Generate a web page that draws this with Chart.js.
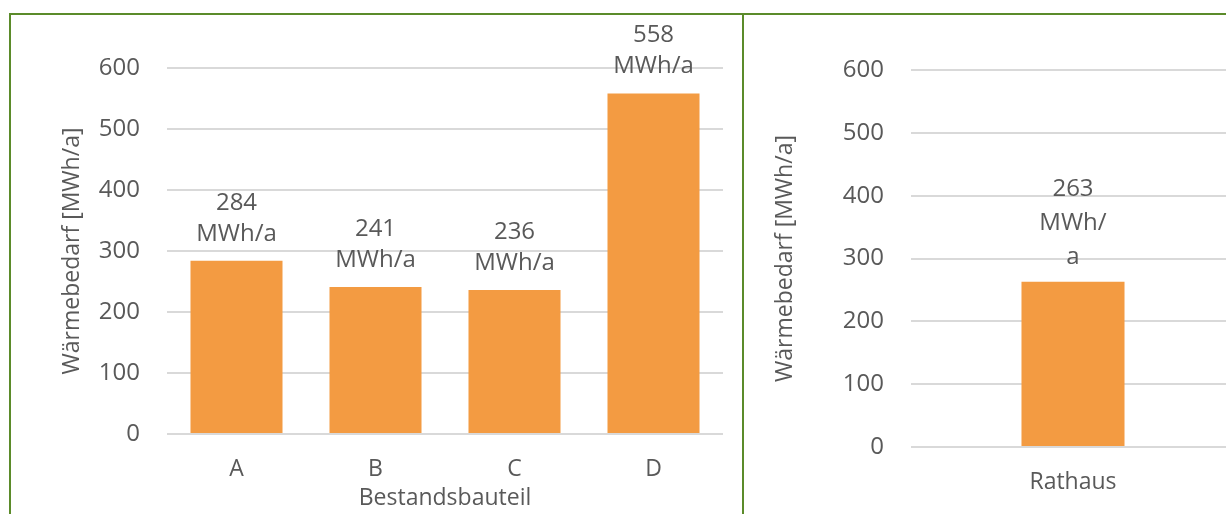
<!DOCTYPE html>
<html>
<head>
<meta charset="utf-8">
<script src="https://cdn.jsdelivr.net/npm/chart.js@4.4.1/dist/chart.umd.min.js"></script>
<style>
  html, body { margin: 0; padding: 0; background: #fff; }
  body { width: 1226px; height: 514px; overflow: hidden; position: relative; }
  .frame-left { position: absolute; left: 9px; top: 13px; width: 735px; height: 600px;
    box-sizing: border-box; border: 2px solid #5b8b2a; }
  .frame-right { position: absolute; left: 742px; top: 13px; width: 600px; height: 600px;
    box-sizing: border-box; border-top: 2px solid #5b8b2a; }
  .box { position: absolute; }
  #boxLeft { left: 11px; top: 15px; width: 730px; height: 499px; }
  #boxRight { left: 744px; top: 15px; width: 500px; height: 499px; }
</style>
</head>
<body>
<div class="frame-left"></div>
<div class="frame-right"></div>
<div class="box" id="boxLeft"><canvas id="leftChart"></canvas></div>
<div class="box" id="boxRight"><canvas id="rightChart"></canvas></div>
<script>
// Wärmebedarf der Bestandsbauteile
const bauteile = ['A', 'B', 'C', 'D'];
const bauteilWerte = [284, 241, 236, 558];
// Wärmebedarf Rathaus
const rathausKategorien = ['Rathaus'];
const rathausWerte = [263];
// Achsen
const yTicks = [0, 100, 200, 300, 400, 500, 600];
const einheit = 'MWh/a';
const einheitUmbruch = ['MWh/', 'a'];
const yTitel = 'Wärmebedarf [MWh/a]';
const xTitelLinks = 'Bestandsbauteil';

const FONT = "'Open Sans', 'DejaVu Sans', sans-serif";
const GREY = '#595959';
const ORANGE = '#f39b42';
const GRID = '#d9d9d9';

// Value labels above each bar, one text line per entry
const valueLabels = {
  id: 'valueLabels',
  afterDatasetsDraw(chart, args, opts) {
    const ctx = chart.ctx;
    const meta = chart.getDatasetMeta(0);
    ctx.save();
    ctx.font = `${opts.size}px ${FONT}`;
    ctx.fillStyle = GREY;
    ctx.textAlign = 'center';
    ctx.textBaseline = 'middle';
    meta.data.forEach((bar, i) => {
      const v = chart.data.datasets[0].data[i];
      const lines = [String(v)].concat(opts.unitLines);
      const n = lines.length;
      lines.forEach((t, k) => {
        const y = bar.y - opts.gap - (n - 1 - k) * opts.lineHeight;
        ctx.fillText(t, bar.x, y);
      });
    });
    ctx.restore();
  }
};

function makeChart(id, labels, values, cfg) {
  return new Chart(document.getElementById(id), {
    type: 'bar',
    data: {
      labels: labels,
      datasets: [{
        data: values,
        backgroundColor: ORANGE,
        borderWidth: 0,
        barPercentage: 1,
        categoryPercentage: cfg.barFrac
      }]
    },
    options: {
      responsive: true,
      maintainAspectRatio: false,
      animation: false,
      layout: { padding: { top: cfg.padTop, right: cfg.padRight, left: 0, bottom: 0 } },
      plugins: {
        legend: { display: false },
        tooltip: { enabled: false },
        valueLabels: { size: 24, lineHeight: cfg.lineHeight, gap: cfg.gap, unitLines: cfg.unitLines }
      },
      scales: {
        x: {
          grid: { display: false, drawTicks: false },
          border: { display: false },
          ticks: { color: GREY, font: { family: FONT, size: 23 }, padding: 22 },
          title: cfg.xTitle ? { display: true, text: cfg.xTitle, color: GREY,
                   font: { family: FONT, size: 23 }, padding: { top: 0, bottom: 2 } } : { display: false },
          afterFit(s) { s.height = cfg.xHeight; }
        },
        y: {
          min: 0, max: 600,
          afterBuildTicks(s) { s.ticks = yTicks.map(v => ({ value: v })); },
          grid: { color: GRID, lineWidth: 2, drawTicks: false },
          border: { display: false },
          ticks: { color: GREY, font: { family: FONT, size: 24 }, padding: 27 },
          title: { display: true, text: yTitel, color: GREY,
                   font: { family: FONT, size: 23 }, padding: { top: cfg.yTitlePad, bottom: 0 } },
          afterFit(s) { s.width = cfg.yWidth; }
        }
      }
    },
    plugins: [valueLabels]
  });
}

makeChart('leftChart', bauteile, bauteilWerte, {
  barFrac: 0.662, padTop: 53, padRight: 18, xHeight: 80, yWidth: 156,
  yTitlePad: 48, xTitle: xTitelLinks, lineHeight: 31, gap: 27, unitLines: [einheit]
});
makeChart('rightChart', rathausKategorien, rathausWerte, {
  barFrac: 0.318, padTop: 55, padRight: 9, xHeight: 67, yWidth: 167,
  yTitlePad: 28, xTitle: null, lineHeight: 34, gap: 25, unitLines: einheitUmbruch
});
</script>
</body>
</html>
